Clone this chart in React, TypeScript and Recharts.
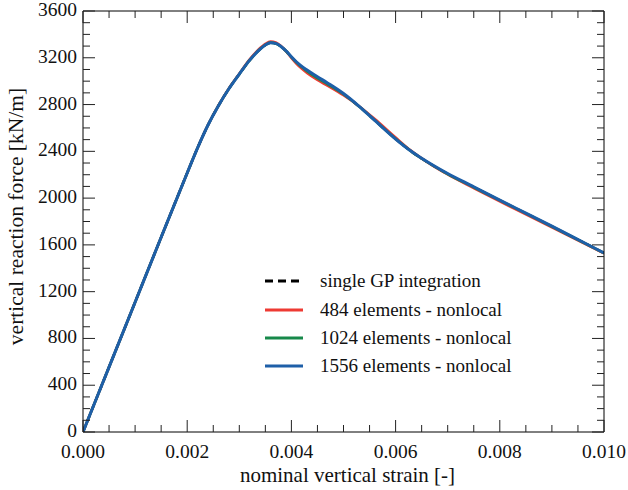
import React from "react"
import { Label, Legend, Line, LineChart, XAxis, YAxis } from "recharts"

const FONT = "'Liberation Serif', 'Times New Roman', serif"

// strain values shared by all series
const strain = [
  0, 0.0005, 0.001, 0.0015, 0.002, 0.0022, 0.0024, 0.0026, 0.0028, 0.003, 0.0032, 0.0034,
  0.0035, 0.0036, 0.0037, 0.0038, 0.0039, 0.004, 0.0041, 0.0043, 0.0045, 0.0047, 0.005, 0.0053,
  0.0056, 0.006, 0.0063, 0.0065, 0.007, 0.0075, 0.008, 0.0085, 0.009, 0.0095, 0.01,
]

const forceSingleGP = [
  0, 555, 1110, 1665, 2215, 2430, 2625, 2790, 2935, 3060, 3180, 3275,
  3310, 3330, 3323, 3296, 3256, 3206, 3158, 3086, 3026, 2973, 2888, 2783,
  2666, 2507, 2400, 2339, 2206, 2093, 1980, 1869, 1757, 1644, 1530,
]
const force484 = [
  0, 555, 1110, 1665, 2215, 2430, 2626, 2792, 2938, 3064, 3186, 3283,
  3319, 3339, 3330, 3300, 3254, 3198, 3147, 3070, 3010, 2960, 2880, 2786,
  2676, 2518, 2404, 2340, 2202, 2086, 1972, 1862, 1750, 1640, 1528,
]
const force1024 = [
  0, 555, 1110, 1665, 2215, 2430, 2625, 2790, 2935, 3060, 3180, 3275,
  3310, 3330, 3323, 3296, 3256, 3206, 3158, 3086, 3026, 2973, 2888, 2783,
  2666, 2507, 2400, 2339, 2206, 2093, 1980, 1869, 1757, 1644, 1530,
]
const force1556 = [
  0, 555, 1110, 1665, 2215, 2430, 2625, 2790, 2935, 3060, 3180, 3274,
  3309, 3329, 3323, 3297, 3258, 3209, 3164, 3095, 3038, 2983, 2894, 2785,
  2664, 2505, 2400, 2341, 2210, 2097, 1983, 1872, 1760, 1646, 1531,
]

const xTicks = [
  0, 0.0005, 0.001, 0.0015, 0.002, 0.0025, 0.003, 0.0035, 0.004, 0.0045, 0.005,
  0.0055, 0.006, 0.0065, 0.007, 0.0075, 0.008, 0.0085, 0.009, 0.0095, 0.01,
]
const yTicks = [
  0, 100, 200, 300, 400, 500, 600, 700, 800, 900, 1000, 1100, 1200, 1300, 1400, 1500, 1600,
  1700, 1800, 1900, 2000, 2100, 2200, 2300, 2400, 2500, 2600, 2700, 2800, 2900, 3000, 3100,
  3200, 3300, 3400, 3500, 3600,
]

const series = [
  { key: "gp", name: "single GP integration", color: "#000000", dash: "7 4", width: 2.5 },
  { key: "e484", name: "484 elements - nonlocal", color: "#EE3A33", dash: undefined, width: 2.6 },
  { key: "e1024", name: "1024 elements - nonlocal", color: "#17894A", dash: undefined, width: 2.6 },
  { key: "e1556", name: "1556 elements - nonlocal", color: "#1E5FA8", dash: undefined, width: 3 },
]

const data = strain.map((x, i) => ({
  x,
  gp: forceSingleGP[i],
  e484: force484[i],
  e1024: force1024[i],
  e1556: force1556[i],
}))

const isMajor = (v: number, step: number) => Math.abs(v / step - Math.round(v / step)) < 1e-6

const MAJOR = 12
const MINOR = 7
const TICK = "#222"
const TICK_FONT = 19.5

function BottomTick({ x, y, payload }: any) {
  const major = isMajor(payload.value, 0.002)
  return (
    <g>
      <line x1={x} x2={x} y1={y} y2={y - (major ? MAJOR : MINOR)} stroke={TICK} />
      {major && (
        <text x={x} y={y + 26} textAnchor="middle" fontFamily={FONT} fontSize={TICK_FONT} fill="#111">
          {payload.value.toFixed(3)}
        </text>
      )}
    </g>
  )
}

function TopTick({ x, y, payload }: any) {
  const major = isMajor(payload.value, 0.002)
  return <line x1={x} x2={x} y1={y} y2={y + (major ? MAJOR : MINOR)} stroke={TICK} />
}

function LeftTick({ x, y, payload }: any) {
  const major = isMajor(payload.value, 400)
  return (
    <g>
      <line x1={x} x2={x + (major ? MAJOR : MINOR)} y1={y} y2={y} stroke={TICK} />
      {major && (
        <text x={x - 6} y={y + 5} textAnchor="end" fontFamily={FONT} fontSize={TICK_FONT} fill="#111">
          {payload.value}
        </text>
      )}
    </g>
  )
}

function RightTick({ x, y, payload }: any) {
  const major = isMajor(payload.value, 400)
  return <line x1={x} x2={x - (major ? MAJOR : MINOR)} y1={y} y2={y} stroke={TICK} />
}

function LegendBox() {
  return (
    <div style={{ fontFamily: FONT, fontSize: 19, color: "#111" }}>
      {series.map((s) => (
        <div key={s.key} style={{ display: "flex", alignItems: "center", height: 28.4 }}>
          <svg width={38} height={6} style={{ display: "block" }}>
            <line
              x1={0}
              x2={38}
              y1={3}
              y2={3}
              stroke={s.color}
              strokeWidth={3}
              strokeDasharray={s.dash ? "8 5" : undefined}
            />
          </svg>
          <span style={{ marginLeft: 17, whiteSpace: "nowrap" }}>{s.name}</span>
        </div>
      ))}
    </div>
  )
}

export default function App() {
  return (
    <div style={{ position: "absolute", left: 0, top: 0, width: 628, height: 490, background: "#fff" }}>
      <LineChart width={628} height={490} data={data} margin={{ top: 10, right: 23, bottom: 0, left: 0 }}>
        <XAxis
          xAxisId="b"
          dataKey="x"
          type="number"
          domain={[0, 0.01]}
          allowDataOverflow
          ticks={xTicks}
          interval={0}
          tickSize={0}
          tickMargin={0}
          tickLine={false}
          tick={<BottomTick />}
          height={58}
          axisLine={{ stroke: "#000" }}
        >
          <Label
            content={({ viewBox }: any) => (
              <text
                x={viewBox.x + viewBox.width / 2 + 4}
                y={viewBox.y + 49.5}
                textAnchor="middle"
                fontFamily={FONT}
                fontSize={21}
                fill="#111"
              >
                nominal vertical strain [-]
              </text>
            )}
          />
        </XAxis>
        <XAxis
          xAxisId="t"
          orientation="top"
          dataKey="x"
          type="number"
          domain={[0, 0.01]}
          allowDataOverflow
          ticks={xTicks}
          interval={0}
          tickSize={0}
          tickMargin={0}
          tickLine={false}
          tick={<TopTick />}
          height={1}
          axisLine={{ stroke: "#000" }}
        />
        <YAxis
          yAxisId="l"
          type="number"
          domain={[0, 3600]}
          allowDataOverflow
          ticks={yTicks}
          interval={0}
          tickSize={0}
          tickMargin={0}
          tickLine={false}
          tick={<LeftTick />}
          width={83}
          axisLine={{ stroke: "#000" }}
        >
          <Label
            content={({ viewBox }: any) => {
              const cx = 23
              const cy = viewBox.y + viewBox.height / 2 - 5
              return (
                <text
                  x={cx}
                  y={cy}
                  transform={`rotate(-90 ${cx} ${cy})`}
                  textAnchor="middle"
                  fontFamily={FONT}
                  fontSize={21.5}
                  fill="#111"
                >
                  vertical reaction force [kN/m]
                </text>
              )
            }}
          />
        </YAxis>
        <YAxis
          yAxisId="r"
          orientation="right"
          type="number"
          domain={[0, 3600]}
          allowDataOverflow
          ticks={yTicks}
          interval={0}
          tickSize={0}
          tickMargin={0}
          tickLine={false}
          tick={<RightTick />}
          width={1}
          axisLine={{ stroke: "#000" }}
        />
        <Legend
          layout="vertical"
          align="center"
          verticalAlign="middle"
          content={() => <LegendBox />}
          wrapperStyle={{ left: 265, top: 267, width: "auto" }}
        />
        {series.map((s) => (
          <Line
            key={s.key}
            xAxisId="b"
            yAxisId="l"
            type="monotone"
            dataKey={s.key}
            name={s.name}
            stroke={s.color}
            strokeWidth={s.width}
            strokeDasharray={s.dash}
            dot={false}
            activeDot={false}
            isAnimationActive={false}
          />
        ))}
      </LineChart>
    </div>
  )
}
